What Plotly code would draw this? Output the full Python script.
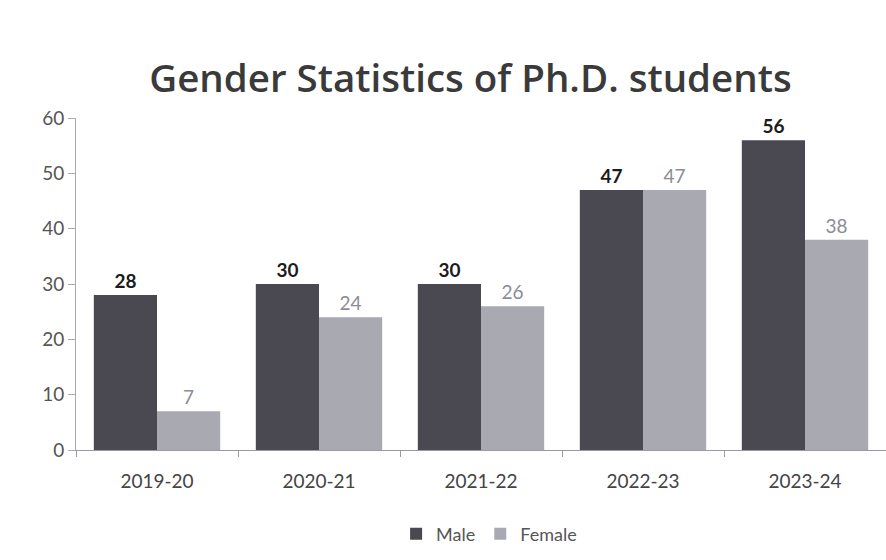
import plotly.graph_objects as go

# Academic years and Ph.D. enrolment by gender
years = ["2019-20", "2020-21", "2021-22", "2022-23", "2023-24"]
male = [28, 30, 30, 47, 56]
female = [7, 24, 26, 47, 38]
y_ticks = [0, 10, 20, 30, 40, 50, 60]

FONT = "Lato, 'Open Sans', sans-serif"
TITLE_FONT = "'Open Sans', Lato, sans-serif"

fig = go.Figure()
fig.add_trace(go.Bar(
    name="Male", x=years, y=male,
    marker=dict(color="#4a4851", line=dict(width=0)),
    text=male, textposition="outside", cliponaxis=False,
    textfont=dict(family=FONT, size=19, color="#1c1c1c", weight="bold"),
))
fig.add_trace(go.Bar(
    name="Female", x=years, y=female,
    marker=dict(color="#a9a9b1", line=dict(width=0)),
    text=female, textposition="outside", cliponaxis=False,
    textfont=dict(family=FONT, size=19, color="#8c8c94"),
))

fig.update_layout(
    width=886, height=560,
    barmode="group", bargap=0.22, bargroupgap=0,
    paper_bgcolor="white", plot_bgcolor="white",
    margin=dict(l=76, r=0, t=118, b=110),
    title=dict(
        text="Gender Statistics of Ph.D. students",
        x=0.531, xanchor="center", y=0.86, yanchor="middle",
        font=dict(family=TITLE_FONT, size=38.5, color="#3a3a3a", weight=600),
    ),
    legend=dict(
        orientation="h", x=0.51, xanchor="center", y=-0.253, yanchor="middle",
        font=dict(family=FONT, size=18, color="#555555"),
        itemsizing="constant", itemwidth=30,
    ),
    xaxis=dict(
        showline=True, linecolor="#9a9aa2", linewidth=1,
        ticks="outside", tickson="boundaries", ticklen=6, tickcolor="#9a9aa2",
        ticklabelstandoff=14,
        tickfont=dict(family=FONT, size=19, color="#444444"),
        showgrid=False,
    ),
    yaxis=dict(
        range=[0, 60], tickvals=y_ticks,
        showline=True, linecolor="#a8a8b8", linewidth=1,
        ticks="outside", ticklen=7, tickcolor="#a8a8b8",
        tickfont=dict(family=FONT, size=19, color="#555555"),
        showgrid=False, zeroline=False,
    ),
)

fig.write_html("out.html")
